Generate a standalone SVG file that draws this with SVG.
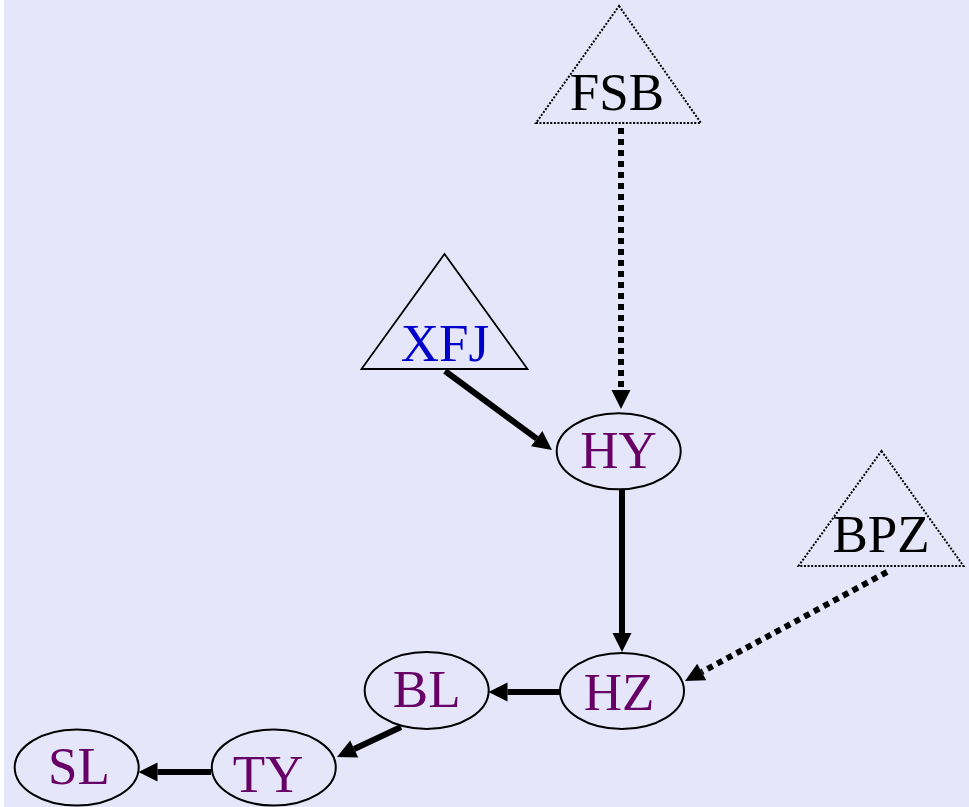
<svg xmlns="http://www.w3.org/2000/svg" width="969" height="807" viewBox="0 0 969 807">
  <style>
    .bg { fill: #e6e6fa; }
    .ell { fill: none; stroke: #000; stroke-width: 2; }
    .tri { fill: none; stroke: #000; stroke-width: 1.8; }
    .tri.dot { stroke-width: 2; stroke-dasharray: 2 1.6; }
    .lbl { font-family: "Liberation Serif", "Times New Roman", serif; font-size: 53px; text-anchor: middle; }
    .purple { fill: #660066; }
    .blue { fill: #0000cc; }
    .black { fill: #000; }
    .edge { fill: none; stroke: #000; stroke-width: 6; }
    .edge.dotted { stroke-dasharray: 6 5; }
  </style>
  <defs>
    <marker id="head" markerUnits="userSpaceOnUse" markerWidth="22" markerHeight="22" refX="0" refY="9.5" orient="auto" overflow="visible">
      <path d="M0,0 L19,9.5 L0,19 Z" fill="#000"/>
    </marker>
  </defs>

  <rect class="bg" x="4" y="0" width="965" height="807"/>

  <g id="connectors">
    <line class="edge dotted" x1="621" y1="128" x2="621" y2="390" marker-end="url(#head)"/>
    <line class="edge" x1="445" y1="371" x2="536.7" y2="438.7" marker-end="url(#head)"/>
    <line class="edge" x1="622" y1="490" x2="622" y2="633" marker-end="url(#head)"/>
    <line class="edge dotted" x1="887" y1="572" x2="701.7" y2="672" marker-end="url(#head)"/>
    <line class="edge" x1="560" y1="692" x2="507.5" y2="692" marker-end="url(#head)"/>
    <line class="edge" x1="401" y1="727" x2="354.2" y2="749" marker-end="url(#head)"/>
    <line class="edge" x1="211" y1="772" x2="157.5" y2="772" marker-end="url(#head)"/>
  </g>

  <g id="FSB">
    <polygon class="tri dot" points="619,6 701,123 536,123"/>
    <text class="lbl black" x="617" y="110">FSB</text>
  </g>
  <g id="XFJ">
    <polygon class="tri" points="444.5,254 527.5,369 361.5,369"/>
    <text class="lbl blue" x="445" y="361">XFJ</text>
  </g>
  <g id="BPZ">
    <polygon class="tri dot" points="881.5,451 963.5,566 798.5,566"/>
    <text class="lbl black" x="881" y="552">BPZ</text>
  </g>
  <g id="HY">
    <ellipse class="ell" cx="618.7" cy="451.3" rx="62" ry="38"/>
    <text class="lbl purple" x="618.5" y="468">HY</text>
  </g>
  <g id="HZ">
    <ellipse class="ell" cx="622" cy="691" rx="62" ry="38"/>
    <text class="lbl purple" x="619" y="710">HZ</text>
  </g>
  <g id="BL">
    <ellipse class="ell" cx="426.7" cy="690.5" rx="62" ry="38.5"/>
    <text class="lbl purple" x="426.7" y="707">BL</text>
  </g>
  <g id="TY">
    <ellipse class="ell" cx="273.8" cy="767.5" rx="62" ry="38"/>
    <text class="lbl purple" x="268" y="791.5">TY</text>
  </g>
  <g id="SL">
    <ellipse class="ell" cx="76.7" cy="767.5" rx="62" ry="38"/>
    <text class="lbl purple" x="79" y="784">SL</text>
  </g>
</svg>
